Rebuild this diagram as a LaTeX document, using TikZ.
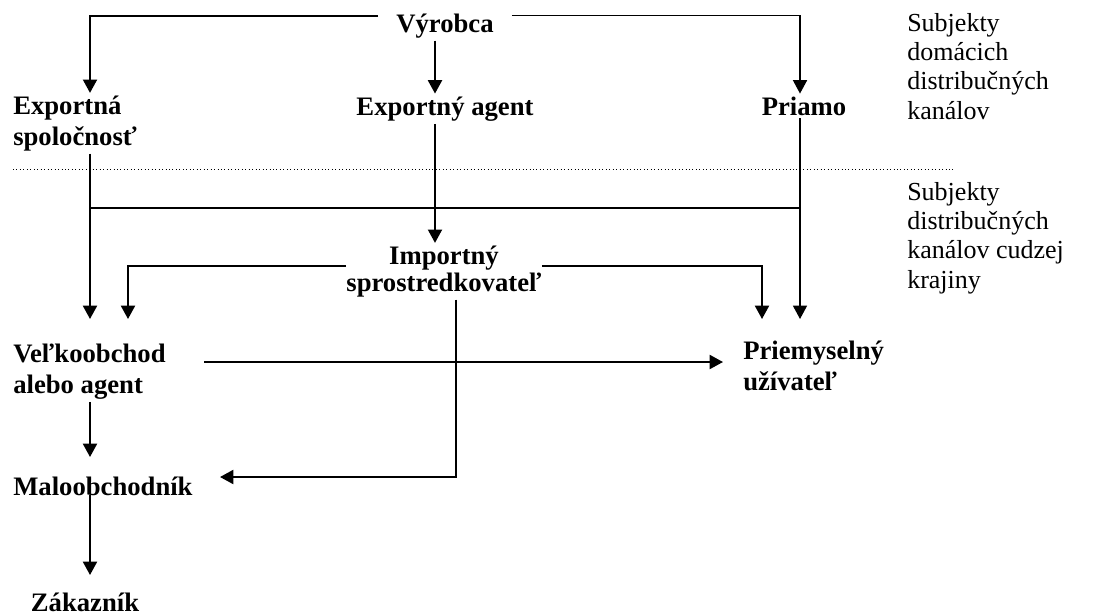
\documentclass[tikz,border=0pt]{standalone}
\usepackage{fontspec}
\setmainfont{Liberation Serif}
\usetikzlibrary{arrows.meta}
\begin{document}
\begin{tikzpicture}[x=0.75pt,y=-0.75pt,
	chan/.style={font=\bfseries\fontsize{20}{23}\selectfont, inner xsep=0pt, inner ysep=2pt},
	side/.style={font=\fontsize{19.5}{22}\selectfont, align=left, anchor=base west, inner sep=0pt},
	heavy/.style={line width=1.5pt, -{Triangle[width=10.5pt,length=10pt]}},
	light/.style={line width=1pt, -{Triangle[width=10.5pt,length=10pt]}}]
	\useasboundingbox (0,0) rectangle (1105,615);

	\node[chan, anchor=base, inner xsep=13.5pt] (vyrobca) at (445,32) {Výrobca};
	\node[chan, align=left, anchor=base west] (expspol) at (13,145) {Exportná\\spoločnosť};
	\node[chan, anchor=base] (expagent) at (445,115) {Exportný agent};
	\node[chan, anchor=base] (priamo) at (804,115) {Priamo};
	\node[chan, align=center, anchor=base] (import) at (444,291) {Importný\\[-3pt]sprostredkovateľ};
	\node[chan, align=left, anchor=base west] (velko) at (13,393) {Veľkoobchod\\alebo agent};
	\node[chan, align=left, anchor=base west] (priem) at (743,390) {Priemyselný\\užívateľ};
	\node[chan, anchor=base west] (malo) at (13,495) {Maloobchodník};
	\node[chan, anchor=base] (zakaznik) at (85,611) {Zákazník};

	\node[side] (dom) at (907,119) {Subjekty\\domácich\\distribučných\\kanálov};
	\node[side] (cudz) at (907,288) {Subjekty\\distribučných\\kanálov cudzej\\krajiny};

	\coordinate (topL) at (90,15.5);
	\coordinate (topR) at (800,15.5);
	\coordinate (colM) at (435,0);
	\coordinate (midL) at (90,208);
	\coordinate (midR) at (800,208);
	\coordinate (impL) at (128,266);
	\coordinate (impR) at (762,266);
	\coordinate (impD) at (456,477);
	\coordinate (inL) at (90,319);
	\coordinate (inR) at (800,319);
	\coordinate (inM) at (90,457);
	\coordinate (inMr) at (220,477);
	\coordinate (inZ) at (90,575);
	\coordinate (hzA) at (204,362);
	\coordinate (hzB) at (723,362);

	\draw[dotted, line width=0.6pt] (13,169) -- (955,169);

	\draw[heavy] (vyrobca.west |- topL) -- (topL) -- (topL |- expspol.north);
	\draw[light] (vyrobca.east |- topR) -- (topR) -- (topR |- priamo.north);
	\draw[heavy] (vyrobca.south -| colM) -- (colM |- expagent.north);

	\draw[heavy] (topL |- expspol.south) -- (inL);
	\draw[heavy] (expagent.south -| colM) -- (colM |- import.north);
	\draw[light] (topR |- priamo.south) -- (inR);
	\draw[light, -] (midL) -- (midR);

	\draw[heavy] (import.west |- impL) -- (impL) -- (impL |- inL);
	\draw[heavy] (import.east |- impR) -- (impR) -- (impR |- inR);
	\draw[heavy] (import.south -| impD) -- (impD) -- (inMr);

	\draw[heavy] (hzA) -- (hzB);
	\draw[heavy] (topL |- velko.south) -- (inM);
	\draw[heavy] (topL |- malo.base) -- (inZ);
\end{tikzpicture}
\end{document}
